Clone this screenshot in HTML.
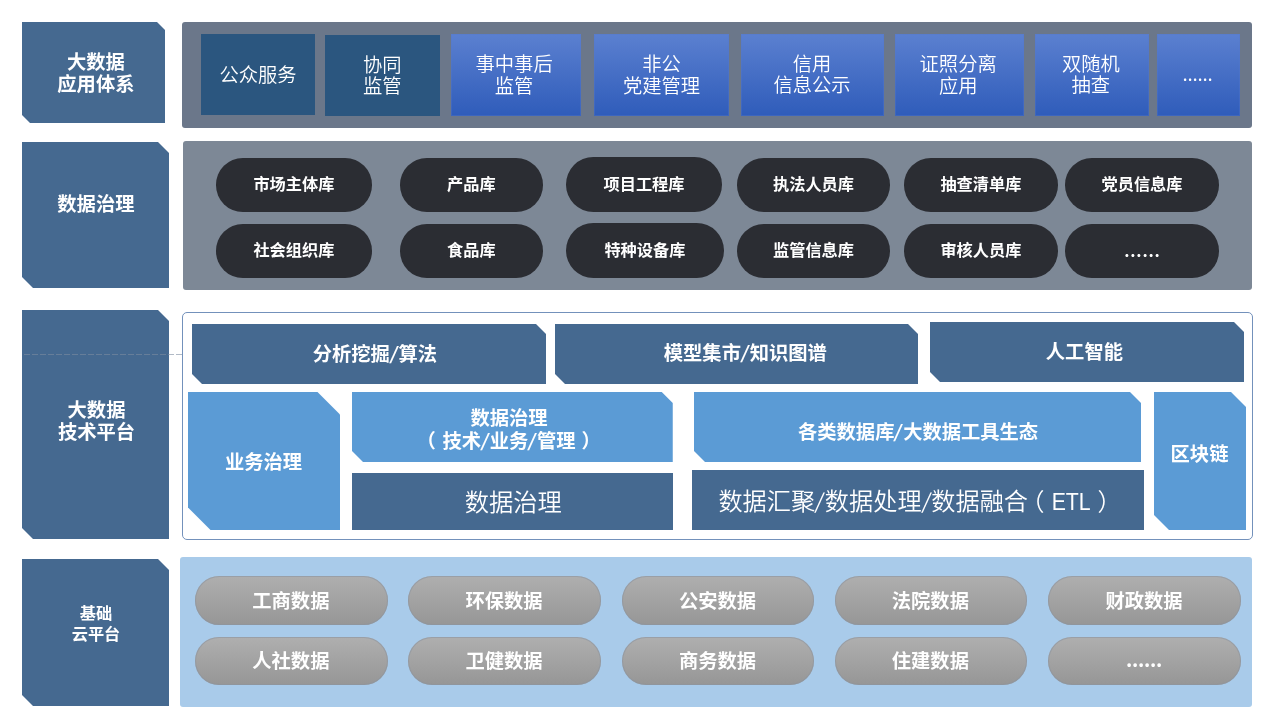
<!DOCTYPE html>
<html lang="zh-CN">
<head>
<meta charset="utf-8">
<title>大数据应用体系</title>
<style>
html,body{margin:0;padding:0;background:#fff}
body{width:1280px;height:720px;position:relative;overflow:hidden;font-family:"Liberation Sans", "Noto Sans CJK SC", sans-serif;color:#fff}
#stage{position:absolute;left:0;top:0;width:1280px;height:720px;will-change:transform}
.lab,.pan,.bx,.pill,.gp,.dash{position:absolute}
.lab{background:#456990}
.t{position:absolute;text-align:center;white-space:nowrap}
.b{font-weight:700}
.l{font-weight:350}
.d{background:#2b567f}
.g{background:linear-gradient(#5b80d0,#2f5cba);box-shadow:inset 0 0 0 1px rgba(85,120,200,.35)}
.pill{background:#2b2d33}
.gp{background:linear-gradient(#afafaf,#969696);box-shadow:inset 0 0 0 1px rgba(140,148,160,.6)}
.dash{left:24px;top:354px;width:158px;height:1.4px;background:repeating-linear-gradient(90deg,rgba(125,140,160,.6) 0 6px,transparent 6px 8px)}
.dots,.sl{font-family:"Noto Sans CJK SC","Liberation Sans",sans-serif}
.dots,.sl{line-height:0}
.dots{position:relative;top:0px}
.pill .dots{top:.9px;left:.4px}
.gp .dots{top:-.5px}
.sl{padding:0 0.65px}
.b .sl{display:inline-block;line-height:1;transform:skewX(-10deg) scaleY(.9)}
.l .sl{display:inline-block;line-height:1;padding:0 .1px;transform:skewX(-5deg) scaleY(.86)}
.pl{margin-left:-6.5px;margin-right:6.5px}
.pr{margin-left:6px;margin-right:-6px}
.pl2{margin-left:-7.75px;margin-right:5.85px}
.pr2{margin-left:4.7px}
.etl{display:inline-block;transform:scaleX(.88);transform-origin:50% 50%;margin:0 -1px}
</style>
</head>
<body>
<div id="stage">
<div class="lab" style="left:22px;top:22px;width:143px;height:101px;clip-path:polygon(0 0, 135px 0, 143px 8px, 143px 101px, 8px 101px, 0 93px)"><div class="t b" style="left:2.40px;width:143px;top:29.80px;font-size:19.3px;line-height:22.2px;">大数据<br>应用体系</div></div>
<div class="lab" style="left:22px;top:142px;width:147px;height:146px;clip-path:polygon(0 0, 136px 0, 147px 11px, 147px 146px, 11px 146px, 0 135px)"><div class="t b" style="left:0.40px;width:147px;top:51.80px;font-size:19.3px;line-height:22px;">数据治理</div></div>
<div class="lab" style="left:22px;top:310px;width:147px;height:229px;clip-path:polygon(0 0, 136px 0, 147px 11px, 147px 229px, 11px 229px, 0 218px)"><div class="t b" style="left:1.00px;width:147px;top:90.40px;font-size:19.3px;line-height:22px;">大数据<br>技术平台</div></div>
<div class="lab" style="left:22px;top:559px;width:147px;height:147px;clip-path:polygon(0 0, 136px 0, 147px 11px, 147px 147px, 11px 147px, 0 136px)"><div class="t b" style="left:0.50px;width:147px;top:43.80px;font-size:16.2px;line-height:20.7px;">基础<br>云平台</div></div>
<div class="pan" style="left:182px;top:22px;width:1070px;height:105.5px;background:#6b778a;border-radius:3px"></div>
<div class="pan" style="left:183px;top:141px;width:1069px;height:148.5px;background:#7d8896;border-radius:3px"></div>
<div class="pan" style="left:182px;top:312px;width:1071px;height:228px;background:#fff;border:1px solid #7391bb;border-radius:5px;box-sizing:border-box"></div>
<div class="pan" style="left:180px;top:557px;width:1072px;height:150px;background:#a9cbea;border-radius:3px"></div>
<div class="bx d" style="left:201px;top:34px;width:114px;height:81px"><div class="t l" style="left:0.10px;width:114px;top:30.55px;font-size:19.3px;line-height:21.5px;">公众服务</div></div>
<div class="bx d" style="left:325px;top:35px;width:115px;height:81px"><div class="t l" style="left:-0.20px;width:115px;top:19.70px;font-size:19.3px;line-height:21.5px;">协同<br>监管</div></div>
<div class="bx g" style="left:450.5px;top:34px;width:130.0px;height:81.5px"><div class="t l" style="left:-1.40px;width:130.0px;top:20.15px;font-size:19.3px;line-height:21.5px;">事中事后<br>监管</div></div>
<div class="bx g" style="left:594px;top:34px;width:135px;height:81.5px"><div class="t l" style="left:0.00px;width:135px;top:20.15px;font-size:19.3px;line-height:21.5px;">非公<br>党建管理</div></div>
<div class="bx g" style="left:740.5px;top:34px;width:143.0px;height:81.5px"><div class="t l" style="left:0.10px;width:143.0px;top:19.95px;font-size:19.3px;line-height:21.5px;">信用<br>信息公示</div></div>
<div class="bx g" style="left:894.5px;top:34px;width:129.5px;height:81.5px"><div class="t l" style="left:-1.10px;width:129.5px;top:20.25px;font-size:19.3px;line-height:21.5px;">证照分离<br>应用</div></div>
<div class="bx g" style="left:1035px;top:34px;width:114px;height:81.5px"><div class="t l" style="left:-1.20px;width:114px;top:19.95px;font-size:19.3px;line-height:21.5px;">双随机<br>抽查</div></div>
<div class="bx g" style="left:1157px;top:34px;width:83px;height:81.5px"><div class="t l" style="left:-1.00px;width:83px;top:30.00px;font-size:19.3px;line-height:21.5px;letter-spacing:-0.2px"><span class="dots">......</span></div></div>
<div class="pill" style="left:216px;top:158px;width:155.75px;height:53.75px;border-radius:26.875px"><div class="t b" style="left:0.00px;width:155.75px;top:14.88px;font-size:16.2px;line-height:22px;">市场主体库</div></div>
<div class="pill" style="left:400px;top:158px;width:142.75px;height:53.75px;border-radius:26.875px"><div class="t b" style="left:0.00px;width:142.75px;top:14.88px;font-size:16.2px;line-height:22px;">产品库</div></div>
<div class="pill" style="left:566px;top:157px;width:156px;height:54.75px;border-radius:27.375px"><div class="t b" style="left:0.00px;width:156px;top:16.38px;font-size:16.2px;line-height:22px;">项目工程库</div></div>
<div class="pill" style="left:737px;top:158px;width:153px;height:53.75px;border-radius:26.875px"><div class="t b" style="left:0.00px;width:153px;top:14.88px;font-size:16.2px;line-height:22px;">执法人员库</div></div>
<div class="pill" style="left:904px;top:158px;width:153.75px;height:53.75px;border-radius:26.875px"><div class="t b" style="left:0.00px;width:153.75px;top:14.88px;font-size:16.2px;line-height:22px;">抽查清单库</div></div>
<div class="pill" style="left:1065px;top:158px;width:154px;height:53.75px;border-radius:26.875px"><div class="t b" style="left:0.00px;width:154px;top:14.88px;font-size:16.2px;line-height:22px;">党员信息库</div></div>
<div class="pill" style="left:216px;top:224px;width:155.75px;height:53.75px;border-radius:26.875px"><div class="t b" style="left:0.00px;width:155.75px;top:14.88px;font-size:16.2px;line-height:22px;">社会组织库</div></div>
<div class="pill" style="left:400px;top:224px;width:142.75px;height:53.75px;border-radius:26.875px"><div class="t b" style="left:0.00px;width:142.75px;top:14.88px;font-size:16.2px;line-height:22px;">食品库</div></div>
<div class="pill" style="left:566px;top:223px;width:157.75px;height:54.75px;border-radius:27.375px"><div class="t b" style="left:0.00px;width:157.75px;top:16.38px;font-size:16.2px;line-height:22px;">特种设备库</div></div>
<div class="pill" style="left:737px;top:224px;width:153px;height:53.75px;border-radius:26.875px"><div class="t b" style="left:0.00px;width:153px;top:14.88px;font-size:16.2px;line-height:22px;">监管信息库</div></div>
<div class="pill" style="left:904px;top:224px;width:153.75px;height:53.75px;border-radius:26.875px"><div class="t b" style="left:0.00px;width:153.75px;top:14.88px;font-size:16.2px;line-height:22px;">审核人员库</div></div>
<div class="pill" style="left:1065px;top:224px;width:154px;height:53.75px;border-radius:26.875px"><div class="t b" style="left:0.00px;width:154px;top:14.88px;font-size:16.2px;line-height:22px;letter-spacing:0.8px"><span class="dots">......</span></div></div>
<div class="bx" style="left:192px;top:324px;width:354px;height:60px;background:#456990;clip-path:polygon(0 0, 344px 0, 354px 10px, 354px 60px, 10px 60px, 0 50px);"><div class="t b" style="left:5.90px;width:354px;top:19.90px;font-size:19.3px;line-height:22px;">分析挖掘<span class="sl">/</span>算法</div></div>
<div class="bx" style="left:555px;top:324px;width:363px;height:60px;background:#456990;clip-path:polygon(0 0, 353px 0, 363px 10px, 363px 60px, 10px 60px, 0 50px);"><div class="t b" style="left:8.80px;width:363px;top:19.00px;font-size:19.3px;line-height:22px;">模型集市<span class="sl">/</span>知识图谱</div></div>
<div class="bx" style="left:930px;top:322px;width:314px;height:60px;background:#456990;clip-path:polygon(0 0, 304px 0, 314px 10px, 314px 60px, 10px 60px, 0 50px);"><div class="t b" style="left:-2.60px;width:314px;top:19.80px;font-size:19.3px;line-height:22px;">人工智能</div></div>
<div class="bx" style="left:188px;top:392px;width:152px;height:138px;background:#5b9bd5;clip-path:polygon(0 0, 129.5px 0, 152px 22.5px, 152px 138px, 22.5px 138px, 0 115.5px);"><div class="t b" style="left:-0.50px;width:152px;top:60.00px;font-size:19.3px;line-height:22px;">业务治理</div></div>
<div class="bx" style="left:352px;top:392px;width:320.75px;height:70px;background:#5b9bd5;clip-path:polygon(0 0, 309.75px 0, 320.75px 11px, 320.75px 70px, 11px 70px, 0 59px);"><div class="t b" style="left:-3.40px;width:320.75px;top:16.10px;font-size:19.3px;line-height:22.5px;">数据治理<br><span class="pl">（</span>技术<span class="sl">/</span>业务<span class="sl">/</span>管理<span class="pr">）</span></div></div>
<div class="bx" style="left:694px;top:392px;width:447px;height:70px;background:#5b9bd5;clip-path:polygon(0 0, 436px 0, 447px 11px, 447px 70px, 11px 70px, 0 59px);"><div class="t b" style="left:0.60px;width:447px;top:30.40px;font-size:19.3px;line-height:22px;">各类数据库<span class="sl">/</span>大数据工具生态</div></div>
<div class="bx" style="left:1154px;top:392px;width:92px;height:138px;background:#5b9bd5;clip-path:polygon(0 0, 77px 0, 92px 15px, 92px 138px, 15px 138px, 0 123px);"><div class="t b" style="left:-0.50px;width:92px;top:52.00px;font-size:19.3px;line-height:22px;">区块链</div></div>
<div class="bx" style="left:352px;top:473.25px;width:320.5px;height:56.75px;background:#456990;"><div class="t l" style="left:1.00px;width:320.5px;top:15.38px;font-size:24.3px;line-height:28px;">数据治理</div></div>
<div class="bx" style="left:692px;top:470.25px;width:452px;height:59.75px;background:#456990;"><div class="t l" style="left:2.00px;width:452px;top:17.48px;font-size:24.2px;line-height:28px;">数据汇聚<span class="sl">/</span>数据处理<span class="sl">/</span>数据融合<span class="pl2">（</span><span class="etl">ETL</span><span class="pr2">）</span></div></div>
<div class="dash"></div>
<div class="gp" style="left:195px;top:576px;width:192.75px;height:48.5px;border-radius:24.25px"><div class="t b" style="left:-0.50px;width:192.75px;top:15.00px;font-size:19.3px;line-height:22px;">工商数据</div></div>
<div class="gp" style="left:408px;top:576px;width:193px;height:48.5px;border-radius:24.25px"><div class="t b" style="left:-0.50px;width:193px;top:15.00px;font-size:19.3px;line-height:22px;">环保数据</div></div>
<div class="gp" style="left:622px;top:576px;width:192px;height:48.5px;border-radius:24.25px"><div class="t b" style="left:-0.50px;width:192px;top:15.00px;font-size:19.3px;line-height:22px;">公安数据</div></div>
<div class="gp" style="left:835px;top:576px;width:191.75px;height:48.5px;border-radius:24.25px"><div class="t b" style="left:-0.50px;width:191.75px;top:15.00px;font-size:19.3px;line-height:22px;">法院数据</div></div>
<div class="gp" style="left:1048px;top:576px;width:193px;height:48.5px;border-radius:24.25px"><div class="t b" style="left:-0.50px;width:193px;top:15.00px;font-size:19.3px;line-height:22px;">财政数据</div></div>
<div class="gp" style="left:195px;top:637px;width:192.75px;height:48px;border-radius:24.0px"><div class="t b" style="left:-0.50px;width:192.75px;top:13.95px;font-size:19.3px;line-height:22px;">人社数据</div></div>
<div class="gp" style="left:408px;top:637px;width:193px;height:48px;border-radius:24.0px"><div class="t b" style="left:-0.50px;width:193px;top:13.95px;font-size:19.3px;line-height:22px;">卫健数据</div></div>
<div class="gp" style="left:622px;top:637px;width:192px;height:48px;border-radius:24.0px"><div class="t b" style="left:-0.50px;width:192px;top:13.95px;font-size:19.3px;line-height:22px;">商务数据</div></div>
<div class="gp" style="left:835px;top:637px;width:191.75px;height:48px;border-radius:24.0px"><div class="t b" style="left:-0.50px;width:191.75px;top:13.95px;font-size:19.3px;line-height:22px;">住建数据</div></div>
<div class="gp" style="left:1048px;top:637px;width:193px;height:48px;border-radius:24.0px"><div class="t b" style="left:-0.50px;width:193px;top:13.95px;font-size:19.3px;line-height:22px;letter-spacing:-0.25px"><span class="dots">......</span></div></div>
</div>
</body>
</html>
